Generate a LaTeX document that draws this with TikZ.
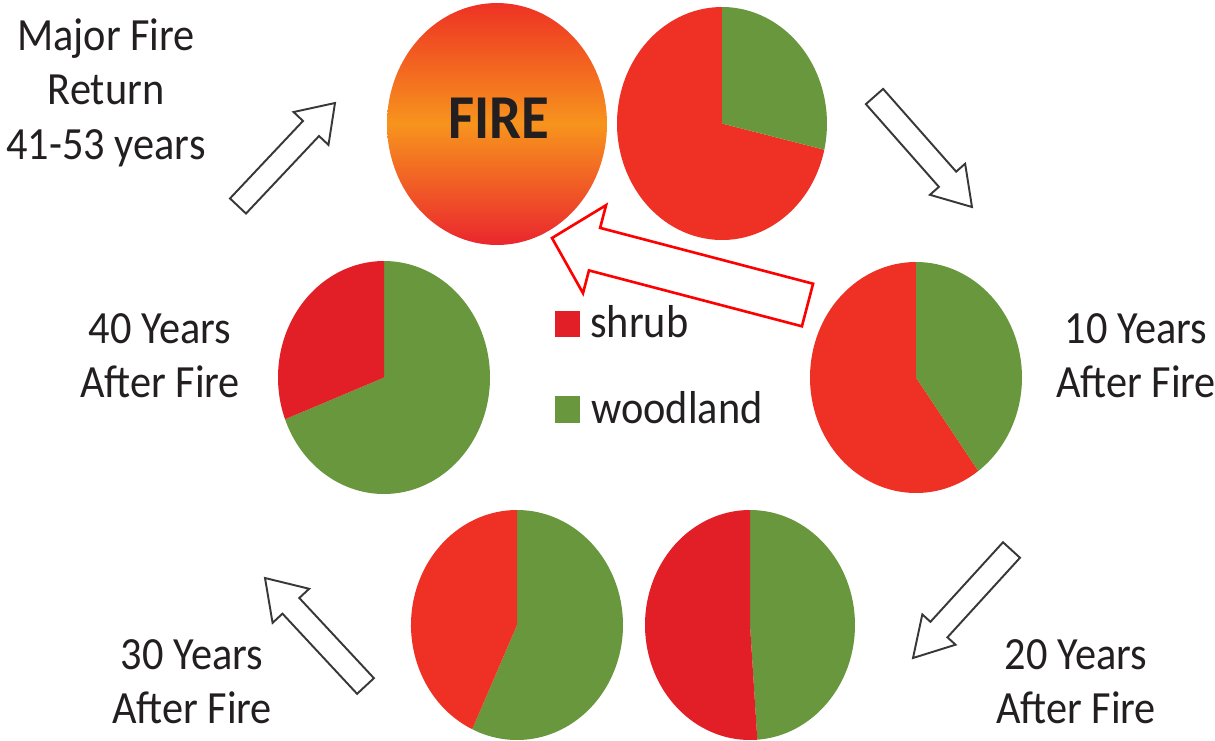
\documentclass[tikz,border=0pt]{standalone}
\usepackage{fontspec}
\setmainfont{Carlito}
\usepackage{graphicx}
\usetikzlibrary{calc,shapes.geometric}
\definecolor{pred}{RGB}{238,49,36}
\definecolor{pdred}{RGB}{226,30,38}
\definecolor{pgreen}{RGB}{105,151,62}
\definecolor{txt}{RGB}{35,31,32}
\definecolor{ftop}{RGB}{238,50,36}
\definecolor{fbot}{RGB}{234,38,46}
\definecolor{forange}{RGB}{247,148,29}
\newcommand\vs[1]{\scalebox{1}[1.09]{#1}}
\newcommand\pslice[6]{%
  \fill[#1] (#2) -- ++(#5:#3 and #4) arc[start angle=#5, end angle=#6, x radius=#3, y radius=#4] -- cycle;}
\newcommand\blkarrow[6]{%
  \coordinate (#2-neck) at ($(#3)!#6!(#2)$);
  \draw[#1] ($(#2)!#4!90:(#3)$) -- ($(#2-neck)!#4!90:(#3)$) -- ($(#2-neck)!#5!90:(#3)$) -- (#3)
    -- ($(#2-neck)!#5!-90:(#3)$) -- ($(#2-neck)!#4!-90:(#3)$) -- ($(#2)!#4!-90:(#3)$) -- cycle;}
\begin{document}
\begin{tikzpicture}[x=0.02cm,y=-0.02cm,
  lbl/.style={font=\fontsize{24.1pt}{28.6pt}\selectfont, text=txt, inner sep=0pt, anchor=base},
  garrow/.style={draw=black!78, line width=1.1pt, fill=white, line join=miter},
  rarrow/.style={draw=red, line width=1.5pt, fill=white, line join=miter}]
\useasboundingbox (0,0) rectangle (1215,741);

% FIRE
\node[ellipse, minimum width=4.4cm, minimum height=4.84cm, inner sep=0pt,
  top color=ftop, bottom color=fbot, middle color=forange] (fire) at (497,124) {};
\node[font=\bfseries\fontsize{32.3pt}{38pt}\selectfont, text=txt, anchor=base, inner sep=0pt]
  (firetxt) at (499,138) {\scalebox{1}[1.1]{FIRE}};

% pies
\coordinate (p0) at (722,123.5);
\pslice{pred}{p0}{105}{116.5}{13}{270}
\pslice{pgreen}{p0}{105}{116.5}{-90}{13}
\coordinate (p10) at (916,377.5);
\pslice{pred}{p10}{106}{115.5}{54}{270}
\pslice{pgreen}{p10}{106}{115.5}{-90}{54}
\coordinate (p40) at (384,377.5);
\pslice{pgreen}{p40}{106}{116.5}{-90}{159}
\pslice{pdred}{p40}{106}{116.5}{159}{270}
\coordinate (p30) at (517,625);
\pslice{pgreen}{p30}{106}{115}{-90}{115}
\pslice{pred}{p30}{106}{115}{115}{270}
\coordinate (p20) at (750,625);
\pslice{pgreen}{p20}{105}{115}{-90}{86}
\pslice{pdred}{p20}{105}{115}{86}{270}

% block arrows
\coordinate (a1t) at (238,206); \coordinate (a1h) at (335,103);
\blkarrow{garrow}{a1t}{a1h}{0.22cm}{0.48cm}{0.70cm}
\coordinate (a2t) at (874.5,96.5); \coordinate (a2h) at (972,207);
\blkarrow{garrow}{a2t}{a2h}{0.23cm}{0.47cm}{0.74cm}
\coordinate (a3t) at (1011.5,550); \coordinate (a3h) at (913,658);
\blkarrow{garrow}{a3t}{a3h}{0.23cm}{0.45cm}{0.77cm}
\coordinate (a4t) at (365.5,686); \coordinate (a4h) at (265,578);
\blkarrow{garrow}{a4t}{a4h}{0.23cm}{0.50cm}{0.76cm}
\coordinate (rt) at (807.5,305); \coordinate (rh) at (552,238);
\blkarrow{rarrow}{rt}{rh}{0.44cm}{0.91cm}{0.88cm}

% legend
\fill[pdred] (555,311) rectangle (580,337);
\node[lbl, anchor=base west] (shrub) at (590,337) {\vs{shrub}};
\fill[pgreen] (555,396) rectangle (580,423);
\node[lbl, anchor=base west] (wood) at (591,423) {\vs{woodland}};

% labels
\node[lbl] (tmajor) at (106,50) {\vs{\begin{tabular}[t]{@{}c@{}}Major Fire\\Return\\41-53 years\end{tabular}}};
\node[lbl] (t40) at (160,343) {\vs{\begin{tabular}[t]{@{}c@{}}40 Years\\After Fire\end{tabular}}};
\node[lbl] (t10) at (1136,343) {\vs{\begin{tabular}[t]{@{}c@{}}10 Years\\After Fire\end{tabular}}};
\node[lbl] (t30) at (192,669) {\vs{\begin{tabular}[t]{@{}c@{}}30 Years\\After Fire\end{tabular}}};
\node[lbl] (t20) at (1076,669) {\vs{\begin{tabular}[t]{@{}c@{}}20 Years\\After Fire\end{tabular}}};
\end{tikzpicture}
\end{document}
